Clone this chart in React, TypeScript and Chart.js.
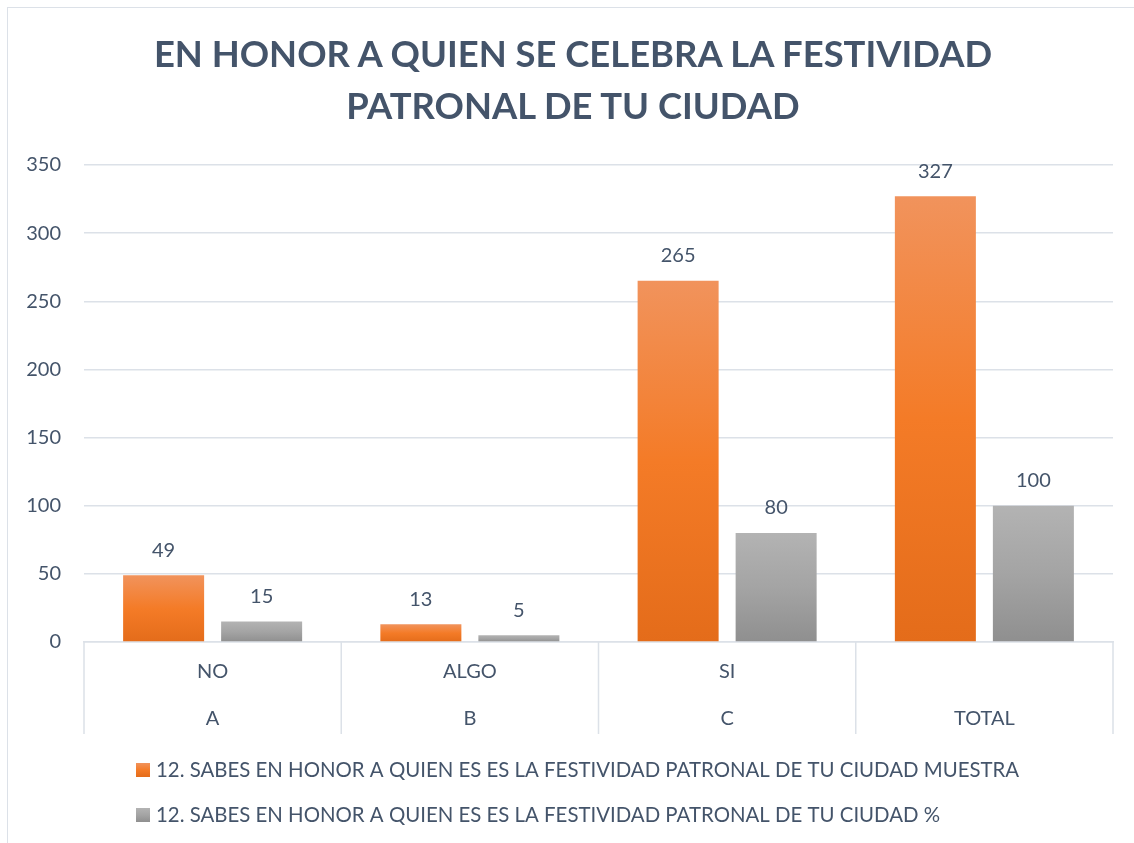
import React, { useEffect, useRef } from 'react';
import { Chart, registerables } from 'chart.js';

Chart.register(...registerables);

// ---- data ----
const titleLines = ['EN HONOR A QUIEN SE CELEBRA LA FESTIVIDAD', 'PATRONAL DE TU CIUDAD'];
const answerLabels = ['NO', 'ALGO', 'SI', ''];
const groupLabels = ['A', 'B', 'C', 'TOTAL'];
const muestraValues = [49, 13, 265, 327];
const porcentajeValues = [15, 5, 80, 100];
const seriesNames = [
  '12. SABES EN HONOR A QUIEN ES ES LA FESTIVIDAD PATRONAL DE TU CIUDAD MUESTRA',
  '12. SABES EN HONOR A QUIEN ES ES LA FESTIVIDAD PATRONAL DE TU CIUDAD %',
];
const yMin = 0;
const yMax = 350;
const yStep = 50;

// ---- styles ----
const FONT = 'Lato, "Open Sans", "DejaVu Sans", sans-serif';
const TEXT = '#44546A';
const GRID = '#DCE1E8';
const orangeStops = ['#F1935C', '#F47B27', '#E46C1A'];
const grayStops = ['#B3B3B3', '#A4A4A4', '#8F8F8F'];
const seriesStops = [orangeStops, grayStops];

function makeGradient(ctx: CanvasRenderingContext2D, top: number, bottom: number, stops: string[]) {
  const g = ctx.createLinearGradient(0, top, 0, bottom);
  g.addColorStop(0, stops[0]);
  g.addColorStop(0.5, stops[1]);
  g.addColorStop(1, stops[2]);
  return g;
}

function barFill(stops: string[]) {
  return (c: any) => {
    const chart = c.chart;
    const y = chart.scales && chart.scales.y;
    if (!y || c.type !== 'data' || typeof c.raw !== 'number') return stops[1];
    const top = y.getPixelForValue(c.raw);
    const bottom = y.getPixelForValue(0);
    if (!isFinite(top) || !isFinite(bottom) || bottom - top < 0.5) return stops[1];
    return makeGradient(chart.ctx, top, bottom, stops);
  };
}

const valueLabelPlugin = {
  id: 'valueLabels',
  afterDatasetsDraw(chart: any) {
    const { ctx } = chart;
    ctx.save();
    ctx.font = `20px ${FONT}`;
    ctx.fillStyle = TEXT;
    ctx.textAlign = 'center';
    ctx.textBaseline = 'middle';
    chart.data.datasets.forEach((ds: any, di: number) => {
      const meta = chart.getDatasetMeta(di);
      meta.data.forEach((el: any, i: number) => {
        ctx.fillText(String(ds.data[i]), el.x, el.y - 25);
      });
    });
    ctx.restore();
  },
};

// vertical separators between categories below the axis
const separatorPlugin = {
  id: 'categorySeparators',
  afterDraw(chart: any) {
    const x = chart.scales.x;
    const n = chart.data.labels.length;
    const step = (x.right - x.left) / n;
    const { ctx } = chart;
    ctx.save();
    ctx.strokeStyle = GRID;
    ctx.lineWidth = 1.5;
    ctx.beginPath();
    for (let i = 0; i <= n; i++) {
      const px = x.left + i * step;
      ctx.moveTo(px, chart.chartArea.bottom);
      ctx.lineTo(px, chart.chartArea.bottom + 92);
    }
    ctx.stroke();
    ctx.restore();
  },
};

const legendPlugin = {
  id: 'stackedLegend',
  afterDraw(chart: any) {
    const { ctx } = chart;
    const left = chart.chartArea.left + 52;
    const rows = [chart.height - 73, chart.height - 28];
    ctx.save();
    ctx.font = `20.4px ${FONT}`;
    ctx.textAlign = 'left';
    ctx.textBaseline = 'middle';
    chart.data.datasets.forEach((ds: any, di: number) => {
      const cy = rows[di];
      const size = 14;
      ctx.fillStyle = makeGradient(ctx, cy - size / 2, cy + size / 2, seriesStops[di]);
      ctx.fillRect(left, cy - size / 2, size, size);
      ctx.fillStyle = TEXT;
      ctx.fillText(ds.label, left + size + 6, cy);
    });
    ctx.restore();
  },
};

export default function App() {
  const canvasRef = useRef<HTMLCanvasElement | null>(null);

  useEffect(() => {
    if (!canvasRef.current) return;
    const labels = answerLabels.map((a, i) => [a, groupLabels[i]]);
    const chart = new Chart(canvasRef.current, {
      type: 'bar',
      data: {
        labels,
        datasets: [
          {
            label: seriesNames[0],
            data: muestraValues,
            backgroundColor: barFill(orangeStops),
            barPercentage: 0.8265,
            categoryPercentage: 0.762,
          },
          {
            label: seriesNames[1],
            data: porcentajeValues,
            backgroundColor: barFill(grayStops),
            barPercentage: 0.8265,
            categoryPercentage: 0.762,
          },
        ],
      },
      options: {
        responsive: false,
        animation: false,
        layout: { padding: { left: 0, right: 21, top: 157, bottom: 102 } },
        plugins: {
          legend: { display: false },
          tooltip: { enabled: false },
          title: { display: false },
        },
        scales: {
          x: {
            grid: {
              display: false,
            },
            border: { display: true, color: GRID, width: 1.5 },
            ticks: {
              color: TEXT,
              font: { family: FONT, size: 20, lineHeight: 47 / 20 },
              padding: -1.5,
              maxRotation: 0,
              autoSkip: false,
            },
          },
          y: {
            min: yMin,
            max: yMax,
            ticks: {
              stepSize: yStep,
              color: TEXT,
              font: { family: FONT, size: 20 },
              padding: 23,
            },
            grid: { color: GRID, lineWidth: 1.5, drawTicks: false },
            border: { display: false },
            afterFit: (scale: any) => {
              scale.width = 76;
            },
          },
        },
      },
      plugins: [valueLabelPlugin, separatorPlugin, legendPlugin],
    });
    return () => chart.destroy();
  }, []);

  return (
    <div
      style={{
        position: 'absolute',
        left: 7,
        top: 7,
        width: 1127,
        height: 836,
        borderTop: `1px solid ${GRID}`,
        borderLeft: `1px solid ${GRID}`,
        boxSizing: 'border-box',
        background: '#fff',
      }}
    >
      <canvas ref={canvasRef} width={1126} height={835} style={{ display: 'block' }} />
      <div
        style={{
          position: 'absolute',
          left: 65,
          top: 19,
          width: 1000,
          textAlign: 'center',
          fontFamily: FONT,
          fontWeight: 700,
          fontSize: 36.4,
          lineHeight: '52px',
          color: TEXT,
          whiteSpace: 'nowrap',
        }}
      >
        {titleLines.map((line) => (
          <div key={line}>{line}</div>
        ))}
      </div>
    </div>
  );
}
